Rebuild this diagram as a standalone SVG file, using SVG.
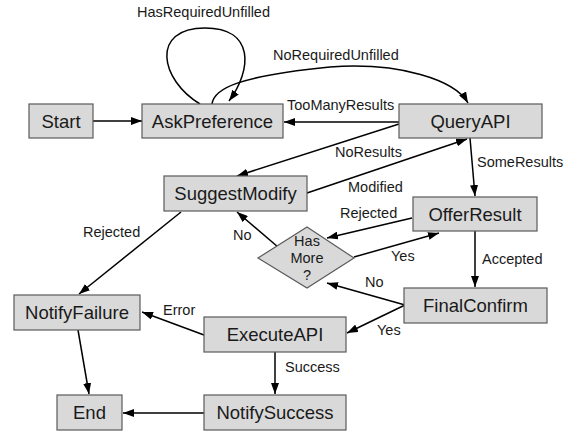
<svg xmlns="http://www.w3.org/2000/svg" width="571" height="432" viewBox="0 0 571 432">
<style>
.box{fill:#d9d9d9;stroke:#5a5a5a;stroke-width:1.2}
.nt{font-family:"Liberation Sans",Arial,sans-serif;font-size:18.5px;fill:#1a1a1a;text-anchor:middle}
.dt{font-family:"Liberation Sans",Arial,sans-serif;font-size:14.5px;fill:#1a1a1a;text-anchor:middle}
.lb{font-family:"Liberation Sans",Arial,sans-serif;font-size:14.5px;fill:#1a1a1a}
.e{fill:none;stroke:#000;stroke-width:1.5;marker-end:url(#ah)}
</style>
<defs>
<marker id="ah" markerUnits="userSpaceOnUse" markerWidth="11" markerHeight="8" refX="11" refY="4" orient="auto">
<path d="M0,0 L11,4 L0,8 z" fill="#000"/>
</marker>
</defs>
<rect width="571" height="432" fill="#fff"/>
<g id="connectors">
<path class="e" d="M93,121 L142,121"/>
<path class="e" d="M200,104 C160,80 150,28 205,28 C255,28 252,70 229,101"/>
<path class="e" d="M212,104 C214,88 240,76 330,67 C400,62 455,80 468,103"/>
<path class="e" d="M399,122 L284,122"/>
<path class="e" d="M399,124 L237,176"/>
<path class="e" d="M307,193 L467,139"/>
<path class="e" d="M470,138 L475,196"/>
<path class="e" d="M412,218 L327,238"/>
<path class="e" d="M354,257 L439,233"/>
<path class="e" d="M278,247 L237,212"/>
<path class="e" d="M475,231 L475,287"/>
<path class="e" d="M405,305 L327,283"/>
<path class="e" d="M405,305 L347,333"/>
<path class="e" d="M181,212 L79,294"/>
<path class="e" d="M204,335 L142,312"/>
<path class="e" d="M78,330 L89,394"/>
<path class="e" d="M275,352 L275,394"/>
<path class="e" d="M204,413 L123,413"/>
</g>
<g id="labels">
<text class="lb" x="137" y="17">HasRequiredUnfilled</text>
<text class="lb" x="273" y="60">NoRequiredUnfilled</text>
<text class="lb" x="287" y="110">TooManyResults</text>
<text class="lb" x="335" y="157">NoResults</text>
<text class="lb" x="348" y="192">Modified</text>
<text class="lb" x="477" y="167">SomeResults</text>
<text class="lb" x="340" y="218">Rejected</text>
<text class="lb" x="391" y="261">Yes</text>
<text class="lb" x="233" y="240">No</text>
<text class="lb" x="482" y="264">Accepted</text>
<text class="lb" x="365" y="287">No</text>
<text class="lb" x="377" y="335">Yes</text>
<text class="lb" x="83" y="237">Rejected</text>
<text class="lb" x="163" y="315">Error</text>
<text class="lb" x="285" y="372">Success</text>
</g>
<g id="Start"><rect class="box" x="29" y="104" width="64" height="34"/><text class="nt" x="61" y="127.5">Start</text></g>
<g id="AskPreference"><rect class="box" x="142" y="104" width="141" height="34"/><text class="nt" x="212.5" y="127.5">AskPreference</text></g>
<g id="QueryAPI"><rect class="box" x="399" y="104" width="143" height="34"/><text class="nt" x="470.5" y="127.5">QueryAPI</text></g>
<g id="SuggestModify"><rect class="box" x="164" y="176" width="143" height="35"/><text class="nt" x="235.5" y="200">SuggestModify</text></g>
<g id="OfferResult"><rect class="box" x="413" y="197" width="124" height="34"/><text class="nt" x="475" y="220.5">OfferResult</text></g>
<g id="HasMore"><path d="M307,227 L354,258 L307,288 L258,258 Z" fill="#d9d9d9" stroke="#5a5a5a" stroke-width="1.2"/><text class="dt" x="307" y="246">Has</text><text class="dt" x="307" y="263">More</text><text class="dt" x="307" y="280">?</text></g>
<g id="FinalConfirm"><rect class="box" x="404" y="288" width="143" height="35"/><text class="nt" x="475.5" y="312">FinalConfirm</text></g>
<g id="ExecuteAPI"><rect class="box" x="204" y="317" width="142" height="35"/><text class="nt" x="275" y="341">ExecuteAPI</text></g>
<g id="NotifyFailure"><rect class="box" x="14" y="295" width="126" height="35"/><text class="nt" x="77" y="319">NotifyFailure</text></g>
<g id="End"><rect class="box" x="57" y="395" width="65" height="35"/><text class="nt" x="89.5" y="419">End</text></g>
<g id="NotifySuccess"><rect class="box" x="204" y="395" width="142" height="35"/><text class="nt" x="275" y="419">NotifySuccess</text></g>
</svg>
